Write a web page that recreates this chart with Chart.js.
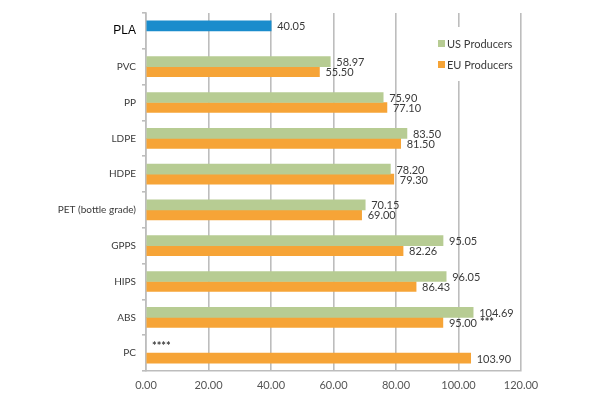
<!DOCTYPE html>
<html>
<head>
<meta charset="utf-8">
<script src="https://cdn.jsdelivr.net/npm/chart.js@4/dist/chart.umd.min.js"></script>
<style>
  html, body { margin: 0; padding: 0; background: #ffffff; }
  #wrap { width: 599px; height: 399px; position: relative; }
</style>
</head>
<body>
<div id="wrap"><canvas id="c" width="599" height="399"></canvas></div>
<script>
const categories = ['PLA', 'PVC', 'PP', 'LDPE', 'HDPE', 'PET (bottle grade)', 'GPPS', 'HIPS', 'ABS', 'PC'];
const plaValues = [40.05, null, null, null, null, null, null, null, null, null];
const usValues  = [null, 58.97, 75.90, 83.50, 78.20, 70.15, 95.05, 96.05, 104.69, null];
const euValues  = [null, 55.50, 77.10, 81.50, 79.30, 69.00, 82.26, 86.43, 95.00, 103.90];
const usNotes   = ['', '', '', '', '', '', '', '', '', '****'];
const euNotes   = ['', '', '', '', '', '', '', '', '***', ''];
const xTicks    = [0, 20, 40, 60, 80, 100, 120];

const GREEN = '#b7cc93';
const ORANGE = '#f6a437';
const BLUE = '#1a8ccc';
const GRID = '#bdbdbd';
const TEXT = '#3a3a3a';
const FONT = 'Lato, "Liberation Sans", sans-serif';

const valueLabels = {
  id: 'valueLabels',
  afterDatasetsDraw(chart) {
    const ctx = chart.ctx;
    const xs = chart.scales.x;
    ctx.save();
    ctx.fillStyle = TEXT;
    ctx.textAlign = 'left';
    ctx.textBaseline = 'middle';
    chart.data.datasets.forEach((ds, di) => {
      const meta = chart.getDatasetMeta(di);
      meta.data.forEach((bar, i) => {
        const v = ds.data[i];
        const note = (ds.notes && ds.notes[i]) || '';
        const y = bar.y;
        if (!isFinite(y)) return;
        let x = ((v == null) ? xs.getPixelForValue(0) : bar.x) + 6;
        if (v != null) {
          const t = v.toFixed(2);
          ctx.font = '11px ' + FONT;
          ctx.fillText(t, x, y + 1);
          x += ctx.measureText(t).width + 3;
        }
        if (note) {
          ctx.font = 'bold 11px ' + FONT;
          ctx.fillText(note, x, y + (v == null ? -2 : 0));
        }
      });
    });
    ctx.restore();
  }
};

const boxLegend = {
  id: 'boxLegend',
  afterDatasetsDraw(chart) {
    const ctx = chart.ctx;
    ctx.save();
    ctx.fillStyle = '#ffffff';
    ctx.fillRect(428, 27, 90, 54);
    const items = [
      { text: 'US Producers', color: GREEN, y: 44 },
      { text: 'EU Producers', color: ORANGE, y: 65 }
    ];
    ctx.font = '11px ' + FONT;
    ctx.textBaseline = 'middle';
    ctx.textAlign = 'left';
    items.forEach(it => {
      ctx.fillStyle = it.color;
      ctx.fillRect(438, it.y - 4, 7, 7);
      ctx.fillStyle = TEXT;
      ctx.fillText(it.text, 447, it.y);
    });
    ctx.restore();
  }
};

new Chart(document.getElementById('c'), {
  type: 'bar',
  data: {
    labels: categories,
    datasets: [
      { label: 'PLA', data: plaValues, backgroundColor: BLUE, yAxisID: 'y2', barThickness: 10, notes: [] },
      { label: 'US Producers', data: usValues, backgroundColor: GREEN, yAxisID: 'y', barThickness: 10, notes: usNotes },
      { label: 'EU Producers', data: euValues, backgroundColor: ORANGE, yAxisID: 'y', barThickness: 10, notes: euNotes }
    ]
  },
  options: {
    indexAxis: 'y',
    responsive: false,
    animation: false,
    layout: { padding: { top: 13, right: 78, left: 0, bottom: 0 } },
    plugins: {
      legend: { display: false },
      tooltip: { enabled: false }
    },
    scales: {
      x: {
        min: 0, max: 120,
        afterBuildTicks: s => { s.ticks = xTicks.map(v => ({ value: v })); },
        afterFit: s => { s.height = 28; },
        grid: { color: GRID, lineWidth: 1.6, drawTicks: false },
        border: { color: GRID, width: 1.6 },
        ticks: {
          padding: 8,
          color: '#555555',
          font: { family: FONT, size: 11 },
          callback: v => Number(v).toFixed(2)
        }
      },
      y: {
        type: 'category',
        afterFit: s => { s.width = 146; },
        grid: { drawOnChartArea: false, drawTicks: true, tickLength: 4, color: GRID, lineWidth: 1.6, offset: true },
        border: { color: GRID, width: 1.6 },
        ticks: {
          padding: 6,
          color: ctx => ctx.index === 0 ? '#000000' : TEXT,
          font: ctx => ctx.index === 0
            ? { family: '"Liberation Sans", Arial, sans-serif', size: 12 }
            : { family: FONT, size: 10 }
        }
      },
      y2: {
        type: 'category',
        display: false,
        offset: true
      }
    }
  },
  plugins: [valueLabels, boxLegend]
});
</script>
</body>
</html>
